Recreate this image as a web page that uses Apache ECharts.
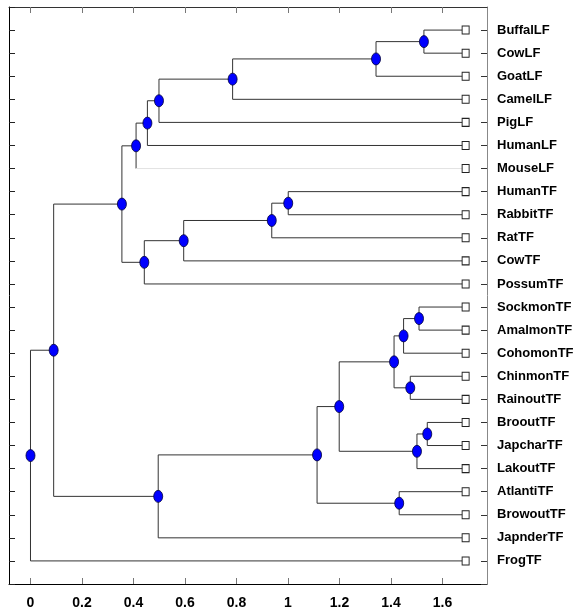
<!DOCTYPE html>
<html>
<head>
<meta charset="utf-8">
<script src="https://cdn.jsdelivr.net/npm/echarts@6/dist/echarts.min.js"></script>
<style>html,body{margin:0;padding:0;background:#fff}#c{width:573px;height:613px}</style>
</head>
<body>
<div id="c"></div>
<script>
// Leaves, top to bottom
const leaves = ["BuffalLF","CowLF","GoatLF","CamelLF","PigLF","HumanLF","MouseLF","HumanTF","RabbitTF","RatTF","CowTF","PossumTF","SockmonTF","AmalmonTF","CohomonTF","ChinmonTF","RainoutTF","BrooutTF","JapcharTF","LakoutTF","AtlantiTF","BrowoutTF","JapnderTF","FrogTF"];
// Height at which leaves are drawn
const leafHeight = 1.69;
// Merges: negative = leaf index (-(i+1)), positive = earlier merge (1-based)
const mergeA = [-1, 1, 2, 3, 4, 5, -8, 7, 8, 9, 6, -13, 12, -16, 13, -18, 16, 15, -21, 18, 20, 11, 22];
const mergeB = [-2, -3, -4, -5, -6, -7, -9, -10, -11, -12, 10, -14, -15, -17, 14, -19, -20, 17, -22, 19, -23, 21, -24];
const mergeHeight = [1.528, 1.342, 0.785, 0.499, 0.454, 0.410, 1.001, 0.937, 0.595, 0.442, 0.355, 1.509, 1.449, 1.475, 1.412, 1.541, 1.501, 1.199, 1.432, 1.113, 0.496, 0.090, 0.000];
// Axis tick values
const xTicks = [0, 0.2, 0.4, 0.6, 0.8, 1.0, 1.2, 1.4, 1.6];
const faintLeaves = ["MouseLF"];

const FONT = "'Liberation Sans', Arial, sans-serif";

const nodeY = [];
function pos(ref) {
  if (ref < 0) return { x: leafHeight, y: -ref - 1, leaf: -ref - 1 };
  return { x: mergeHeight[ref - 1], y: nodeY[ref - 1], leaf: -1 };
}
const segs = [];
const nodes = [];
for (let i = 0; i < mergeA.length; i++) {
  const a = pos(mergeA[i]), b = pos(mergeB[i]);
  const h = mergeHeight[i];
  const y = (a.y + b.y) / 2;
  nodeY.push(y);
  nodes.push([h, y]);
  [a, b].forEach(c => {
    segs.push({ coords: [[h, y], [h, c.y]] });
    const faint = c.leaf >= 0 && faintLeaves.indexOf(leaves[c.leaf]) >= 0;
    segs.push({ coords: [[h, c.y], [c.x, c.y]], lineStyle: faint ? { color: '#e2e2e2' } : undefined });
  });
}
const leafPts = leaves.map((n, i) => [leafHeight, i]);

const chart = echarts.init(document.getElementById('c'), null, { renderer: 'canvas' });
const xCommon = {
  type: 'value', min: -0.0835, max: 1.773,
  splitLine: { show: false }
};
const yCommon = {
  type: 'value', min: -1, max: 24, interval: 1, inverse: true,
  splitLine: { show: false }
};
chart.setOption({
  animation: false,
  backgroundColor: '#fff',
  grid: { left: 9, right: 86, top: 7, bottom: 29, containLabel: false, outerBoundsMode: 'none' },
  xAxis: [
    Object.assign({}, xCommon, {
      position: 'bottom',
      axisLine: { show: true, onZero: false, lineStyle: { color: '#000', width: 1 } },
      axisTick: { show: true, inside: true, length: 6, customValues: xTicks, lineStyle: { color: '#777' } },
      axisLabel: { show: true, customValues: xTicks, margin: 12, color: '#000', fontFamily: FONT, fontWeight: 'bold', fontSize: 14,
        formatter: v => String(+(+v).toFixed(1)) }
    }),
    Object.assign({}, xCommon, {
      position: 'top',
      axisLine: { show: true, onZero: false, lineStyle: { color: '#333', width: 1 } },
      axisTick: { show: true, inside: true, length: 6, customValues: xTicks, lineStyle: { color: '#777' } },
      axisLabel: { show: false }
    })
  ],
  yAxis: [
    Object.assign({}, yCommon, {
      position: 'left',
      axisLine: { show: true, onZero: false, lineStyle: { color: '#000', width: 1 } },
      axisTick: { show: true, inside: true, length: 6, lineStyle: { color: '#222' } },
      axisLabel: { show: false }
    }),
    Object.assign({}, yCommon, {
      position: 'right',
      axisLine: { show: true, onZero: false, lineStyle: { color: '#888', width: 1 } },
      axisTick: { show: true, inside: true, length: 6, lineStyle: { color: '#333' } },
      axisLabel: { show: true, margin: 10, color: '#000', fontFamily: FONT, fontWeight: 'bold', fontSize: 13,
        formatter: v => (v >= 0 && v < leaves.length && Number.isInteger(v)) ? leaves[v] : '' }
    })
  ],
  series: [
    {
      type: 'lines', coordinateSystem: 'cartesian2d', polyline: true, silent: true,
      xAxisIndex: 0, yAxisIndex: 0,
      lineStyle: { color: '#333', width: 1, opacity: 1 },
      data: segs, z: 2
    },
    {
      type: 'scatter', xAxisIndex: 0, yAxisIndex: 0, data: leafPts,
      symbol: 'rect', symbolSize: [7, 8],
      itemStyle: { color: '#fff', borderColor: '#222', borderWidth: 1, opacity: 1 }, z: 3
    },
    {
      type: 'scatter', xAxisIndex: 0, yAxisIndex: 0, data: nodes,
      symbol: 'circle', symbolSize: [9, 12],
      itemStyle: { color: '#0000ff', borderColor: '#00003a', borderWidth: 0.8, opacity: 1 }, z: 4
    }
  ]
});
</script>
</body>
</html>
